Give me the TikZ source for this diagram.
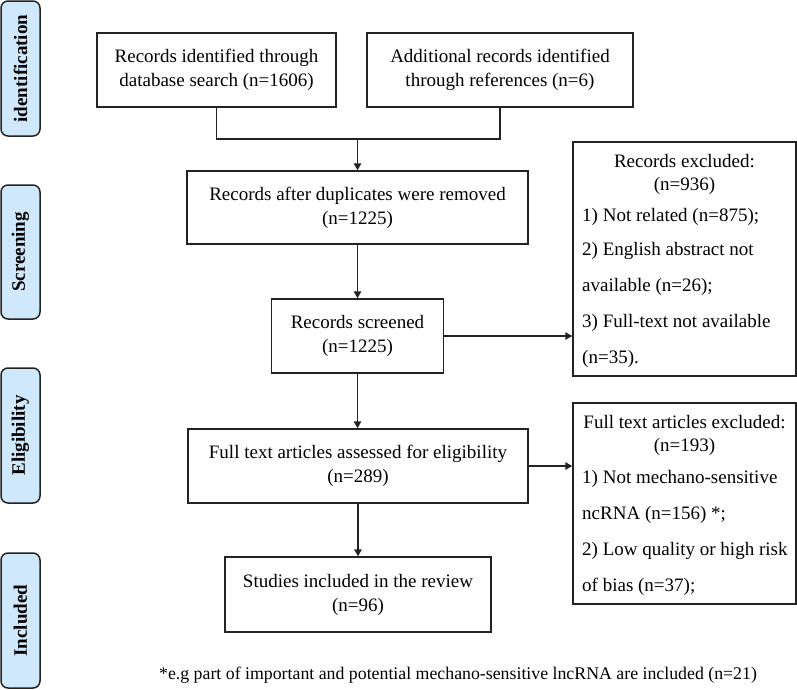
\documentclass[tikz,border=0pt]{standalone}
\usepackage{fontspec}
\setmainfont{Liberation Serif}
\usetikzlibrary{arrows.meta}
\definecolor{sidefill}{RGB}{207,232,252}
\definecolor{edge}{RGB}{35,35,35}
\begin{document}
\begin{tikzpicture}[x=1pt,y=-1pt,
 box/.style={draw=edge, line width=1.5pt, inner sep=0pt, align=center, font=\fontsize{19}{24}\selectfont},
 side/.style={draw=edge, line width=1.5pt, fill=sidefill, rounded corners=7pt, minimum height=39pt, inner sep=0pt, rotate=90, font=\fontsize{19}{23}\selectfont\bfseries},
 arr/.style={draw=edge, line width=1.5pt, -{Triangle[length=7pt,width=7.5pt]}},
 ln/.style={draw=edge, line width=1.5pt},
 txt/.style={inner sep=0pt, anchor=base west, font=\fontsize{19}{24}\selectfont},
 ctxt/.style={inner sep=0pt, anchor=base, font=\fontsize{19}{24}\selectfont}]
\useasboundingbox (0,0) rectangle (797,689);

% side labels
\node[side, minimum width=135pt] (s1) at (20.5,68.5) {identification};
\node[side, minimum width=134pt] (s2) at (20.5,252) {Screening};
\node[side, minimum width=135pt] (s3) at (20.5,435.5) {Eligibility};
\node[side, minimum width=135pt] (s4) at (20.5,620.5) {Included};

% main boxes
\node[box, minimum width=239pt, minimum height=74pt] (b1) at (216.5,70) {Records identified through\\database search (n=1606)};
\node[box, minimum width=266pt, minimum height=74pt] (b2) at (500,70) {Additional records identified\\through references (n=6)};
\node[box, minimum width=341pt, minimum height=73pt] (b3) at (357.5,207.5) {Records after duplicates were removed\\(n=1225)};
\node[box, minimum width=172pt, minimum height=74pt] (b4) at (357.5,336) {Records screened\\(n=1225)};
\node[box, minimum width=340pt, minimum height=74pt] (b5) at (358,466) {Full text articles assessed for eligibility\\(n=289)};
\node[box, minimum width=266pt, minimum height=75pt] (b6) at (358,594.5) {Studies included in the review\\(n=96)};

% right boxes
\node[box, minimum width=223pt, minimum height=234pt] (r1) at (684.5,259) {};
\node[box, minimum width=223pt, minimum height=201pt] (r2) at (684.5,503.5) {};

\node[ctxt] (r1a) at (684.5,167) {Records excluded:};
\node[ctxt] (r1b) at (684.5,190) {(n=936)};
\node[txt] (r1c) at (582,221) {1) Not related (n=875);};
\node[txt] (r1d) at (582,255) {2) English abstract not};
\node[txt] (r1e) at (582,291) {available (n=26);};
\node[txt] (r1f) at (582,327) {3) Full-text not available};
\node[txt] (r1g) at (582,363) {(n=35).};

\node[ctxt] (r2a) at (684.5,428) {Full text articles excluded:};
\node[ctxt] (r2b) at (684.5,451) {(n=193)};
\node[txt] (r2c) at (582,483) {1) Not mechano-sensitive};
\node[txt] (r2d) at (582,519) {ncRNA (n=156) *;};
\node[txt] (r2e) at (582,555) {2) Low quality or high risk};
\node[txt] (r2f) at (582,591) {of bias (n=37);};

% footnote
\node[ctxt, font=\fontsize{17.8}{22}\selectfont] (fn) at (458,679) {*e.g part of important and potential mechano-sensitive lncRNA are included (n=21)};

% connectors
\coordinate (m) at (357.5,139);
\draw[ln] (b1.south) |- (m) -| (b2.south);
\draw[arr] (m) -- (b3.north);
\draw[arr] (b3.south) -- (b4.north);
\draw[arr] (b4.east) -- (r1.west |- b4.east);
\draw[arr] (b4.south) -- (b5.north -| b4.south);
\draw[arr] (b5.east) -- (r2.west |- b5.east);
\draw[arr] (b5.south) -- (b6.north -| b5.south);
\end{tikzpicture}
\end{document}
